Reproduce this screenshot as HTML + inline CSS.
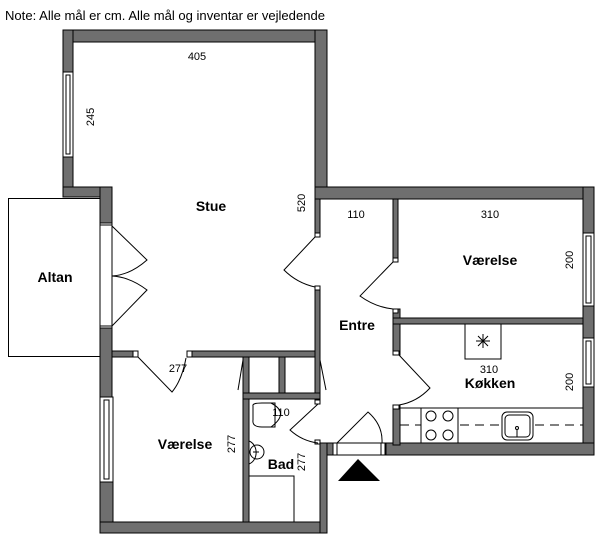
<!DOCTYPE html>
<html><head><meta charset="utf-8"><style>
html,body{margin:0;padding:0;background:#fff;}
svg{display:block;}
text{font-family:"Liberation Sans",sans-serif;fill:#000;}
.b{font-weight:bold;font-size:14px;}
.n{font-size:11px;}
</style></head><body>
<svg width="600" height="540" viewBox="0 0 600 540" xmlns="http://www.w3.org/2000/svg">
<text x="5" y="20" font-size="13" textLength="320" lengthAdjust="spacingAndGlyphs">Note: Alle mål er cm. Alle mål og inventar er vejledende</text>

<!-- Altan -->
<rect x="8.5" y="198.5" width="92" height="158" fill="#fff" stroke="#000"/>

<g fill="#6f6f6f" stroke="#000" stroke-width="1">
<!-- Stue outer -->
<rect x="63" y="30" width="264" height="12"/>
<rect x="63" y="30" width="10" height="42"/>
<rect x="63" y="157" width="10" height="40"/>
<rect x="63" y="187" width="49" height="10"/>
<rect x="100" y="187" width="12" height="36"/>
<rect x="100" y="328" width="12" height="69"/>
<rect x="100" y="482" width="13" height="51"/>
<rect x="100" y="522" width="227" height="11"/>
<rect x="315" y="30" width="12" height="158"/>
<rect x="315" y="187" width="278" height="12"/>
<rect x="583" y="187" width="11" height="46"/>
<rect x="583" y="306" width="11" height="32"/>
<rect x="583" y="387" width="11" height="68"/>
<rect x="386" y="443" width="208" height="12"/>
<rect x="320" y="443" width="13" height="12"/>
<rect x="320" y="443" width="7" height="90"/>
<!-- interior -->
<rect x="112" y="351" width="26" height="6"/>
<rect x="187" y="351" width="133" height="6"/>
<rect x="315" y="199" width="5" height="38"/>
<rect x="315" y="286" width="5" height="114"/>
<rect x="393" y="199" width="5" height="63"/>
<rect x="393" y="309" width="7" height="46"/>
<rect x="393" y="405" width="7" height="40"/>
<rect x="393" y="318" width="190" height="6"/>
<rect x="243" y="357" width="6" height="165"/>
<rect x="243" y="393" width="77" height="6"/>
<rect x="279" y="357" width="6" height="36"/>
</g>
<!-- door posts -->
<g fill="#fff" stroke="#000" stroke-width="1">
<rect x="133" y="351" width="5" height="6"/><rect x="187" y="351" width="5" height="6"/>
<rect x="315" y="233" width="5" height="4"/><rect x="315" y="286" width="5" height="4"/>
<rect x="393" y="258" width="5" height="4"/><rect x="393" y="309" width="5" height="4"/>
<rect x="393" y="351" width="6" height="4"/><rect x="393" y="405" width="6" height="4"/>
<rect x="315" y="400" width="5" height="4"/><rect x="315" y="440" width="5" height="4"/>
<!-- windows -->
<rect x="63" y="72" width="10" height="85"/><rect x="66" y="75" width="4" height="79"/>
<rect x="100" y="223" width="12" height="105"/>
<rect x="100" y="397" width="13" height="85"/><rect x="104" y="400" width="5" height="79"/>
<rect x="583" y="233" width="11" height="73"/><rect x="586" y="236" width="5" height="67"/>
<rect x="583" y="338" width="11" height="49"/><rect x="586" y="341" width="5" height="43"/>
<rect x="333" y="443" width="53" height="12"/>
<rect x="333" y="443" width="4" height="12"/><rect x="381" y="443" width="4" height="12"/>
</g>
<line x1="100" y1="225" x2="112" y2="225" stroke="#000"/>
<line x1="100" y1="326" x2="112" y2="326" stroke="#000"/>

<!-- door swings -->
<g fill="none" stroke="#000" stroke-width="1">
<path d="M112 226 L147 260 Q130 275 112 276"/>
<path d="M112 326 L147 290 Q130 277 112 276"/>
<path d="M138 357 L172 392 Q182 380 186 358"/>
<path d="M315 237 L284 270 Q297 283 315 287"/>
<path d="M393 262 L360 296 Q375 307 393 309"/>
<path d="M399 355 L430 388 Q417 402 399 405"/>
<path d="M318 404 L290 430 Q302 441 318 443"/>
<path d="M337 443 L368 412 Q383 425 382 443"/>
<path d="M243 360 L238 390"/><path d="M320 360 L326 390"/>
<!-- kitchen -->
<rect x="465" y="324" width="36" height="35"/>
<path d="M476 341 h14 M483 334 v14 M478 336 l10 10 M488 336 l-10 10"/>
<path d="M400 408 H583"/>
<path d="M400 425 H583" stroke-dasharray="9 6"/>
<rect x="421" y="408" width="37" height="35" fill="#fff"/>
<circle cx="431" cy="416" r="5"/><circle cx="448" cy="416" r="5"/>
<circle cx="431" cy="435" r="5"/><circle cx="448" cy="435" r="5"/>
<rect x="502" y="412" width="31" height="28" rx="5" fill="#fff"/>
<rect x="505" y="415" width="25" height="22" rx="4"/>
<path d="M517 437 v-8"/><circle cx="517" cy="428" r="1.5"/>
<!-- bad -->
<path d="M253 406 Q252 403 262 403 L275 403 L275 427 L262 427 Q252 427 253 420 Z"/>
<path d="M271 403 Q290 413 271 427"/>
<path d="M249 441 A10 12 0 0 1 249 464"/>
<circle cx="257" cy="452" r="7"/>
<path d="M253 452 h6"/>
<rect x="249" y="476" width="45" height="46"/>
</g>
<polygon points="358,459 338,481 380,481" fill="#000"/>

<!-- labels -->
<text class="b" x="211" y="211" text-anchor="middle">Stue</text>
<text class="b" x="55" y="282" text-anchor="middle">Altan</text>
<text class="b" x="490" y="265" text-anchor="middle">Værelse</text>
<text class="b" x="357" y="330" text-anchor="middle">Entre</text>
<text class="b" x="490" y="388" text-anchor="middle">Køkken</text>
<text class="b" x="185" y="449" text-anchor="middle">Værelse</text>
<text class="b" x="281" y="469" text-anchor="middle">Bad</text>
<g class="n">
<text class="n" x="197" y="60" text-anchor="middle">405</text>
<text class="n" x="356" y="218" text-anchor="middle">110</text>
<text class="n" x="490" y="218" text-anchor="middle">310</text>
<text class="n" x="489" y="373" text-anchor="middle">310</text>
<text class="n" x="178" y="372" text-anchor="middle">277</text>
<text class="n" x="281" y="416" text-anchor="middle">110</text>
<text class="n" transform="translate(94,117) rotate(-90)" text-anchor="middle">245</text>
<text class="n" transform="translate(305,203) rotate(-90)" text-anchor="middle">520</text>
<text class="n" transform="translate(573,260) rotate(-90)" text-anchor="middle">200</text>
<text class="n" transform="translate(573,382) rotate(-90)" text-anchor="middle">200</text>
<text class="n" transform="translate(235,444) rotate(-90)" text-anchor="middle">277</text>
<text class="n" transform="translate(305,462) rotate(-90)" text-anchor="middle">277</text>
</g>
</svg>
</body></html>
